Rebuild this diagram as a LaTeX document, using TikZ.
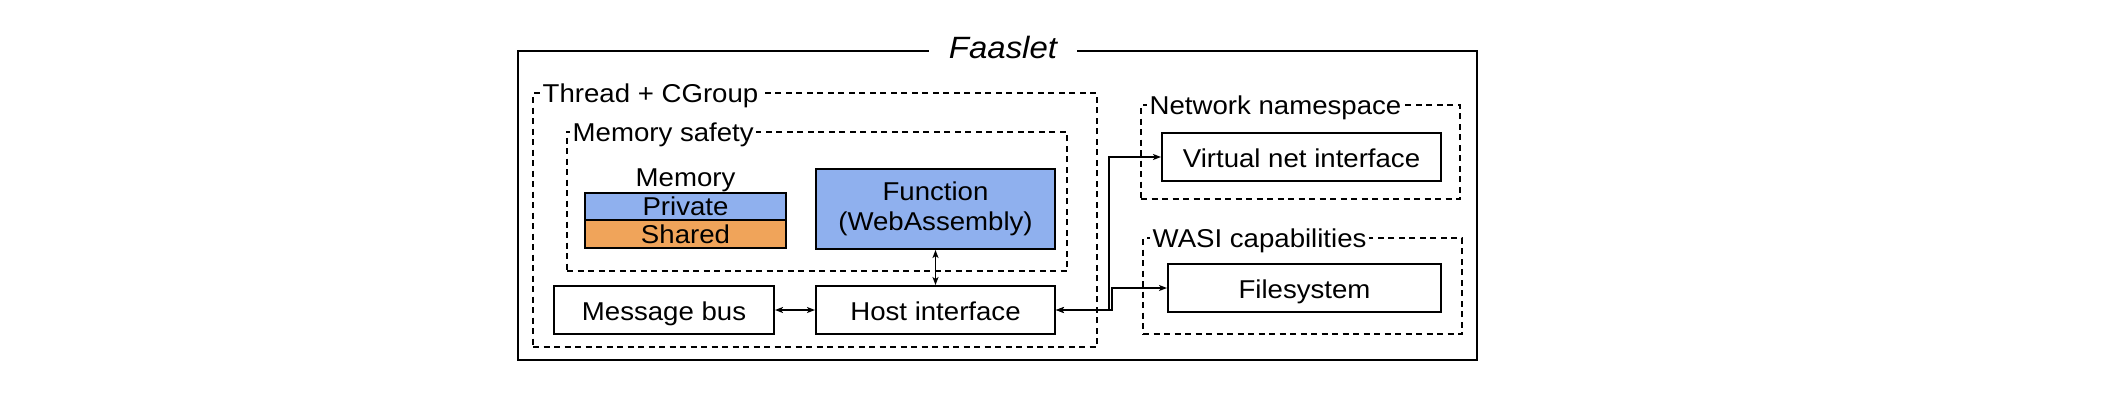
\documentclass[tikz,border=0pt]{standalone}
\usepackage{fontspec}
\setmainfont{Liberation Sans}[FakeStretch=1.07]
\usetikzlibrary{arrows.meta}
\definecolor{privblue}{RGB}{143,176,238}
\definecolor{sharedorange}{RGB}{240,164,90}
\newcommand\diagfont{\fontsize{25.8}{30}\selectfont}
\newcommand\titlefont{\fontsize{30.8}{34}\selectfont}
\begin{document}
\begin{tikzpicture}[x=1pt,y=-1pt,
  box/.style={draw, line width=2pt, inner sep=0pt, font=\diagfont, text height=21pt, text depth=0pt},
  bar/.style={draw, line width=2pt, inner sep=0pt, font=\diagfont, text height=18pt, text depth=0pt},
  group/.style={draw, line width=1.6pt, dash pattern=on 6pt off 4.5pt, inner sep=0pt},
  outerbox/.style={draw, line width=2pt, inner sep=0pt},
  grouplabel/.style={fill=white, inner xsep=2.5pt, inner ysep=1pt, anchor=base west, font=\diagfont},
  conn/.style={line width=1.5pt, {Stealth[length=8pt,width=6pt,inset=2pt]}-{Stealth[length=8pt,width=6pt,inset=2pt]}},
  thickconn/.style={line width=2pt, {Stealth[length=8pt,width=6pt,inset=2pt]}-{Stealth[length=8pt,width=6pt,inset=2pt]}}
]
\useasboundingbox (0,0) rectangle (2128,400);
% containers
\node[outerbox, minimum width=959pt, minimum height=309pt] (faaslet) at (997.5,205.5) {};
\node[fill=white, inner xsep=20pt, inner ysep=1pt, anchor=base, font=\titlefont\itshape] (title) at (1003,58) {Faaslet};
\node[group, minimum width=564pt, minimum height=254pt] (thread) at (815,220) {};
\node[grouplabel] (threadlbl) at (540,102.2) {Thread + CGroup};
\node[group, minimum width=500pt, minimum height=139pt] (memsafe) at (817,201.5) {};
\node[grouplabel] (memsafelbl) at (570,141.2) {Memory safety};
\node[group, minimum width=319pt, minimum height=94pt] (netns) at (1300.5,152) {};
\node[grouplabel] (netnslbl) at (1147,114.2) {Network namespace};
\node[group, minimum width=319pt, minimum height=96pt] (wasi) at (1302.5,286) {};
\node[grouplabel] (wasilbl) at (1150,247.2) {WASI capabilities};
% memory
\node[anchor=base, font=\diagfont, inner sep=0pt] (memlbl) at (685.5,186) {Memory};
\node[bar, fill=privblue, minimum width=201pt, minimum height=27pt] (private) at (685.5,206.5) {Private};
\node[bar, fill=sharedorange, minimum width=201pt, minimum height=28pt] (shared) at (685.5,234) {Shared};
% function
\node[draw, line width=2pt, fill=privblue, inner sep=0pt, font=\diagfont, align=center, minimum width=239pt, minimum height=80pt] (func) at (935.5,209) {Function\\(WebAssembly)};
% bottom row
\node[box, minimum width=220pt, minimum height=48pt] (msg) at (664,310) {Message bus};
\node[box, minimum width=239pt, minimum height=48pt] (host) at (935.5,310) {Host interface};
% right side
\node[box, minimum width=279pt, minimum height=48pt] (vnet) at (1301.5,157) {Virtual net interface};
\node[box, minimum width=273pt, minimum height=48pt] (fs) at (1304.5,288) {Filesystem};
% connectors
\draw[conn] (func.south) -- (host.north);
\draw[conn] (msg.east) -- (host.west);
\draw[thickconn] (host.east) -- ++(53,0) |- (vnet.west);
\draw[thickconn] (host.east) -- ++(56,0) |- (fs.west);
\end{tikzpicture}
\end{document}
